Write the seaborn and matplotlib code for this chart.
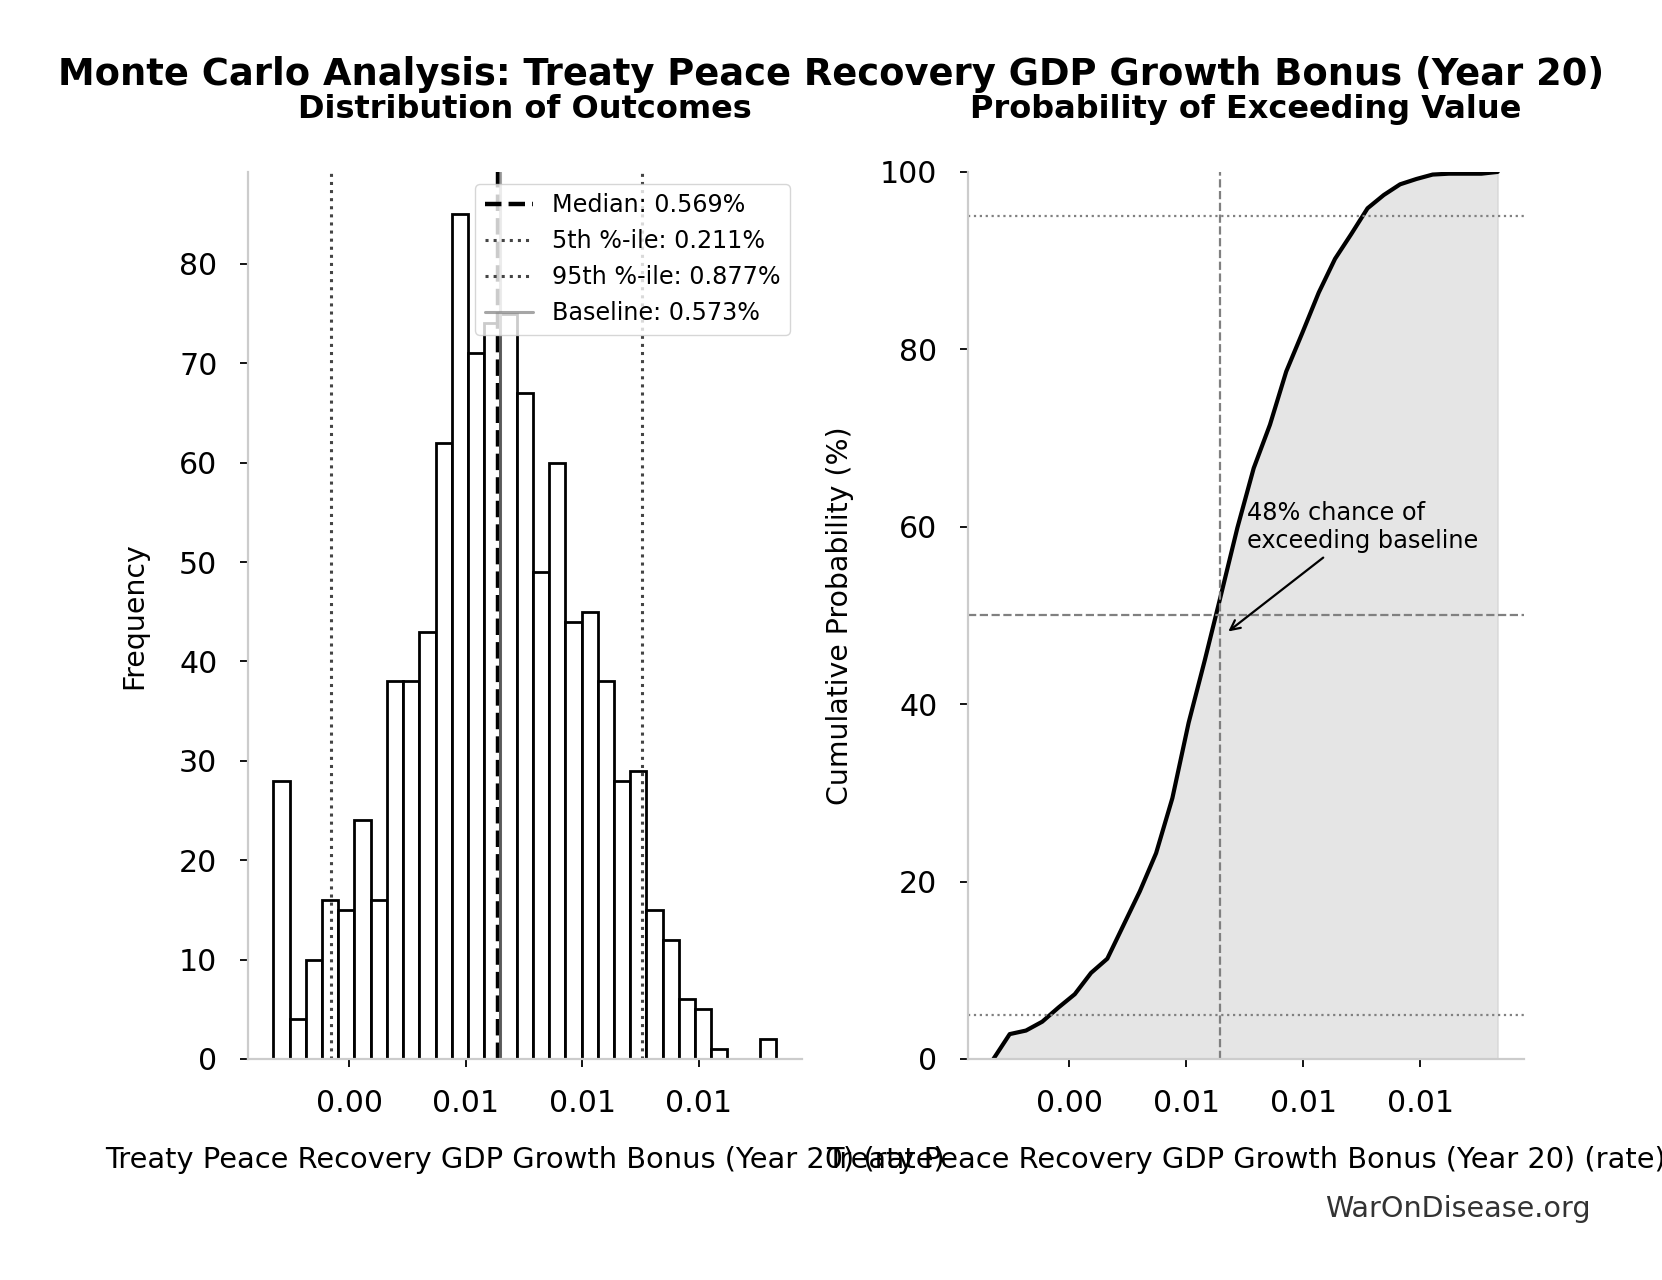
import numpy as np
import pandas as pd
import seaborn as sns
import matplotlib.pyplot as plt

# histogram of the 1000 Monte Carlo draws, 31 equal-width bins
bin_counts = [28, 4, 10, 16, 15, 24, 16, 38, 38, 43, 62, 85, 71, 74, 75,
              67, 49, 60, 44, 45, 38, 28, 29, 15, 12, 6, 5, 1, 0, 0, 2]
bin_lo = 0.000875
bin_hi = 0.011657

# summary stats
median = 0.00569
p5 = 0.00211
p95 = 0.00877
baseline = 0.00573
pct_exceed = 48

x_ticks = [0.0025, 0.005, 0.0075, 0.01]
x_tick_labels = ['0.00', '0.01', '0.01', '0.01']
hist_yticks = [0, 10, 20, 30, 40, 50, 60, 70, 80]
cdf_yticks = [0, 20, 40, 60, 80, 100]

var_name = 'Treaty Peace Recovery GDP Growth Bonus (Year 20)'

edges = np.linspace(bin_lo, bin_hi, len(bin_counts) + 1)
centers = (edges[:-1] + edges[1:]) / 2
hist_df = pd.DataFrame({'value': centers, 'count': bin_counts})

# cumulative % at the bin edges
cum = np.concatenate([[0], np.cumsum(bin_counts)]) / sum(bin_counts) * 100
cdf_df = pd.DataFrame({'value': edges, 'cum': cum})

sns.set_style('white')
plt.rcParams.update({'text.color': 'black', 'axes.labelcolor': 'black',
                     'xtick.color': 'black', 'ytick.color': 'black'})
fig = plt.figure(figsize=(16.62, 12.8), dpi=100)
ax1 = fig.add_axes([0.1492, 0.1727, 0.3333, 0.693])
ax2 = fig.add_axes([0.5824, 0.1727, 0.3343, 0.693])

# left: histogram
sns.histplot(data=hist_df, x='value', weights='count', bins=len(bin_counts),
             binrange=(bin_lo, bin_hi),
             color='white', edgecolor='black', linewidth=2, alpha=1, ax=ax1)
ax1.axvline(median, color='black', ls='--', lw=3.2, label=f'Median: {median*100:.3f}%')
ax1.axvline(p5, color='#444444', ls=':', lw=2.2, label=f'5th %-ile: {p5*100:.3f}%')
ax1.axvline(p95, color='#444444', ls=':', lw=2.2, label=f'95th %-ile: {p95*100:.3f}%')
ax1.axvline(baseline, color='gray', ls='-', lw=2.2, alpha=0.7, label=f'Baseline: {baseline*100:.3f}%')
ax1.legend(loc='upper right', fontsize=17.2)
ax1.set_title('Distribution of Outcomes', fontsize=23, fontweight='bold', pad=38.5)
ax1.set_xlabel(f'{var_name} (rate)', fontsize=20.8, labelpad=20)
ax1.set_ylabel('Frequency', fontsize=20.4, labelpad=22.5)
ax1.set_yticks(hist_yticks)

# right: cumulative distribution
sns.lineplot(data=cdf_df, x='value', y='cum', color='black', linewidth=3, ax=ax2)
ax2.fill_between(cdf_df['value'], cdf_df['cum'], color='gray', alpha=0.2)
ax2.axvline(baseline, color='gray', ls='--', lw=1.6)
ax2.axhline(50, color='gray', ls='--', lw=1.6)
ax2.axhline(5, color='gray', ls=':', lw=1.6)
ax2.axhline(95, color='gray', ls=':', lw=1.6)
ax2.annotate(f'{pct_exceed}% chance of\nexceeding baseline',
             xy=(0.00585, 48), xytext=(baseline * 1.1, 60), va='center',
             fontsize=17.3, arrowprops=dict(arrowstyle='->', color='black', lw=1.6))
ax2.set_ylim(0, 100)
ax2.set_yticks(cdf_yticks)
ax2.set_title('Probability of Exceeding Value', fontsize=23, fontweight='bold', pad=38.5)
ax2.set_xlabel(f'{var_name} (rate)', fontsize=20.8, labelpad=20)
ax2.set_ylabel('Cumulative Probability (%)', fontsize=20.4, labelpad=18.5)

for ax in (ax1, ax2):
    ax.set_xlim(0.00033, 0.01221)
    ax.set_xticks(x_ticks)
    ax.set_xticklabels(x_tick_labels)
    ax.tick_params(axis='both', labelsize=21.6, length=6, width=1.3, color='black', pad=16,
                   bottom=True, left=True)
    sns.despine(ax=ax)
    for side in ('left', 'bottom'):
        ax.spines[side].set_color('#cccccc')
        ax.spines[side].set_linewidth(1.6)

fig.suptitle(f'Monte Carlo Analysis: {var_name}', fontsize=26.6, fontweight='bold',
             y=0.9415, va='center')
fig.text(0.957, 0.0555, 'WarOnDisease.org', fontsize=20.6, color='#333333',
         ha='right', va='center')

fig.savefig('out.png', dpi=100)
